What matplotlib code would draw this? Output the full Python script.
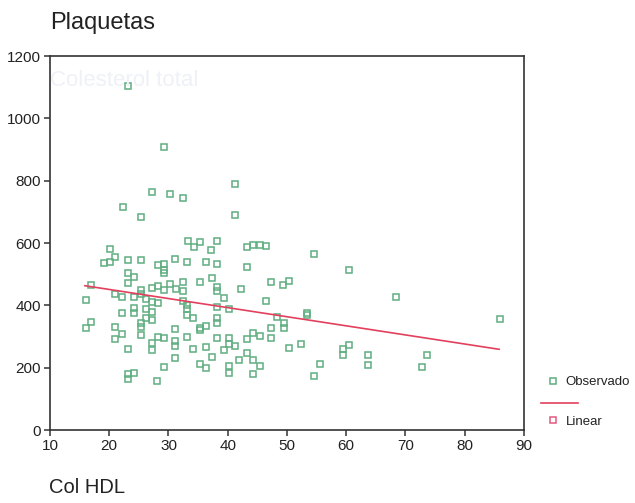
import matplotlib
matplotlib.use("Agg")
from matplotlib import pyplot as plt
from matplotlib.lines import Line2D

plt.rcParams['font.family'] = ['Liberation Sans', 'DejaVu Sans']

# Col HDL (x) vs Plaquetas (y)
hdl = [23.1, 29.3, 27.3, 30.3, 32.4, 41.3, 41.3, 22.3, 25.3,
       33.3, 34.3, 35.3, 38.2, 37.2, 20.2, 21.0, 20.2, 19.2, 23.2, 25.3, 31.1, 33.2, 36.4, 38.2,
       28.2, 29.3, 29.3, 29.3, 23.2, 24.2, 37.3, 35.3, 32.4, 23.2, 17.0, 30.3, 28.2, 27.2, 29.3,
       31.3, 32.4, 38.2, 38.2, 25.3, 25.3, 21.0, 22.2, 24.2, 26.2, 16.0, 39.3, 27.2, 28.2, 32.4,
       33.2, 33.2, 33.2, 34.2, 38.2, 40.2, 26.2, 24.2, 24.2, 22.2, 27.2, 26.2, 27.2, 25.3, 25.3,
       17.0, 16.0, 21.0, 22.2, 21.0, 25.3, 28.2, 29.3, 27.2, 27.2, 31.1, 31.1, 31.1, 31.1, 33.2,
       35.3, 36.4, 38.2, 38.2, 38.2, 40.2, 40.2, 41.3, 39.3, 34.2, 36.4, 23.1, 35.3, 36.4, 37.3,
       40.2, 40.2, 29.3, 24.1, 23.1, 23.1, 28.0, 41.9,
       43.3, 44.3, 45.4, 46.4, 54.5, 43.3, 60.5, 47.3, 49.4, 50.4, 42.3, 46.4, 48.3, 49.5, 49.5,
       47.3, 53.3, 53.3, 35.3, 44.3, 45.5, 43.3, 47.3, 43.3, 44.3, 45.5, 44.3, 50.4, 52.4, 54.5,
       55.6, 59.5, 59.5, 60.5, 63.6, 63.6, 68.4, 85.9, 72.8, 73.7]
plaq = [1103, 907, 765, 756, 745, 788, 690, 714, 683,
        606, 588, 604, 607, 577, 580, 555, 540, 535, 545, 545, 550, 540, 540, 533,
        529, 533, 515, 503, 503, 492, 489, 476, 476, 473, 464, 468, 461, 457, 450,
        452, 446, 460, 446, 449, 436, 436, 426, 428, 420, 418, 423, 410, 407, 414,
        401, 387, 369, 360, 394, 387, 387, 390, 376, 377, 378, 361, 352, 344, 329,
        347, 327, 329, 308, 291, 304, 300, 294, 278, 256, 325, 287, 269, 230, 300,
        321, 333, 359, 344, 295, 295, 276, 269, 256, 259, 267, 261, 213, 198, 233,
        206, 184, 203, 184, 180, 163, 157, 224,
        586, 593, 593, 590, 566, 522, 513, 474, 465, 478, 452, 413, 363, 344, 327,
        327, 375, 368, 327, 312, 303, 291, 295, 248, 224, 206, 180, 264, 276, 174,
        213, 260, 241, 272, 241, 210, 426, 355, 201, 240]

# linear fit line end points
fit_x = [15.9, 85.8]
fit_y = [463, 259]

green = '#5fae80'
red = '#e2405c'
pink = '#e2587e'

fig = plt.figure(figsize=(6.35, 5.03), dpi=100)
ax = fig.add_axes([0.0787, 0.1451, 0.7465, 0.7435])

ax.plot(hdl, plaq, ls='none', marker='s', ms=5, mfc='none', mec=green, mew=1.1)
ax.plot(fit_x, fit_y, color=red, lw=1.2)

ax.set_xlim(10, 90)
ax.set_ylim(0, 1200)
ax.set_xticks(range(10, 91, 10))
ax.set_yticks(range(0, 1201, 200))
for s in ax.spines.values():
    s.set_color('#333333')
    s.set_linewidth(1.2)
ax.tick_params(direction='out', length=4, width=1.1, color='#333333',
               labelsize=11, labelcolor='#222222', pad=2.5)

# faint bleed-through text from the scan
ax.text(0.0, 0.935, 'Colesterol total', transform=ax.transAxes,
        fontsize=16, color='#eff1f7', va='center')

fig.text(0.0787, 0.954, 'Plaquetas', fontsize=17, color='#222222', va='center')
fig.text(0.077, 0.030, 'Col HDL', fontsize=14.5, color='#222222', va='center')

handles = [Line2D([], [], ls='none', marker='s', ms=4.5, mfc='none', mec=green, mew=1.1),
           Line2D([], [], ls='none', marker='s', ms=4.5, mfc='none', mec=pink, mew=1.1)]
fig.legend(handles, ['Observado', 'Linear'], loc='center left',
           bbox_to_anchor=(0.861, 0.2008), frameon=False, fontsize=9.5,
           borderpad=0, borderaxespad=0, handlelength=1.0, handletextpad=0.45,
           labelspacing=2.05, labelcolor='#222222')
fig.add_artist(Line2D([0.852, 0.910], [0.1988, 0.1988], color=red, lw=1.2))

fig.savefig('out.png', dpi=100)
